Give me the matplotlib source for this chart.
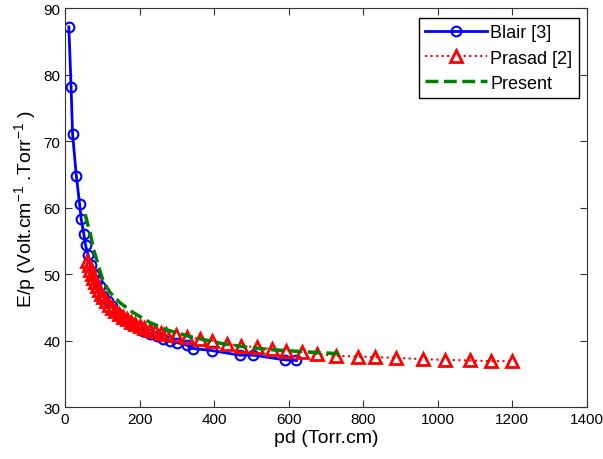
import numpy as np
import matplotlib
matplotlib.use('Agg')
import matplotlib.pyplot as plt

plt.rcParams['font.family'] = ['Liberation Sans', 'DejaVu Sans']
plt.rcParams['mathtext.default'] = 'regular'

# Blair [3]
blair_pd = [10, 16, 20, 30, 39, 43, 50, 55, 62, 70, 78, 86, 94, 102, 114, 125,
            143, 156, 174, 192, 210, 228, 246, 264, 282, 300, 326, 344, 393,
            469, 505, 590, 621]
blair_ep = [87.2, 78.1, 71.1, 64.8, 60.5, 58.3, 56.1, 54.3, 52.8, 51.3, 50.0,
            49.0, 48.2, 46.7, 45.9, 45.2, 44.0, 43.2, 42.6, 42.0, 41.5, 41.0,
            40.7, 40.3, 40.0, 39.7, 39.3, 38.8, 38.5, 37.8, 37.8, 37.1, 37.0]

# Prasad [2]
prasad_pd = [60, 64, 68, 72, 76, 80, 85, 90, 96, 102, 110, 118, 126, 135, 145,
             155, 165, 176, 188, 200, 213, 227, 241, 256, 272, 298, 328, 362,
             393, 435, 471, 514, 554, 594, 635, 675, 728, 786, 831, 887, 961,
             1019, 1086, 1144, 1200]
prasad_ep = [52.0, 51.3, 50.6, 50.0, 49.4, 48.8, 48.2, 47.6, 47.0, 46.5, 45.9,
             45.4, 44.9, 44.4, 44.0, 43.6, 43.2, 42.8, 42.5, 42.2, 41.9, 41.6,
             41.4, 41.2, 41.0, 40.9, 40.6, 40.2, 40.0, 39.5, 39.2, 39.0, 38.7,
             38.5, 38.3, 38.0, 37.7, 37.6, 37.5, 37.4, 37.2, 37.1, 37.0, 36.9,
             36.9]

# Present
present_pd = [54, 60, 67, 76, 89, 103, 121, 147, 183, 228, 273, 335, 416, 487,
              558, 648, 710, 745]
present_ep = [59.0, 57.6, 56.3, 53.8, 51.3, 48.8, 47.2, 45.7, 44.2, 42.7, 41.6,
              40.6, 39.6, 39.0, 38.6, 38.3, 38.1, 38.0]

fig = plt.figure(figsize=(6.03, 4.60), dpi=100)
ax = fig.add_axes([0.108, 0.113, 0.865, 0.867])

ax.plot(blair_pd, blair_ep, color='blue', lw=2, marker='o', ms=7,
        mfc='none', mew=1.5, label='Blair [3]')
ax.plot(prasad_pd, prasad_ep, color='red', lw=1.5, ls=':', marker='^', ms=9,
        mfc='none', mew=2, label='Prasad [2]')
ax.plot(present_pd, present_ep, color='#008000', lw=2.5, ls='--',
        label='Present')

ax.set_xlim(0, 1400)
ax.set_ylim(30, 90)
ax.set_xticks(np.arange(0, 1401, 200))
ax.set_yticks(np.arange(30, 91, 10))
ax.tick_params(direction='in', top=True, right=True, labelsize=11, length=5,
               color='#333333')
for s in ax.spines.values():
    s.set_color('#333333')
ax.set_xlabel('pd (Torr.cm)', fontsize=14, labelpad=2)
ax.set_ylabel('E/p (Volt.cm$^{-1}$ .Torr$^{-1}$ )', fontsize=14, labelpad=4)

leg = ax.legend(loc='upper right', bbox_to_anchor=(0.985, 0.975), fontsize=13,
                fancybox=False, edgecolor='black', framealpha=1,
                handlelength=3.4, borderpad=0.35, labelspacing=0.45,
                handletextpad=0.2, borderaxespad=0)
leg.get_frame().set_linewidth(1)

fig.savefig('out.png', dpi=100)
